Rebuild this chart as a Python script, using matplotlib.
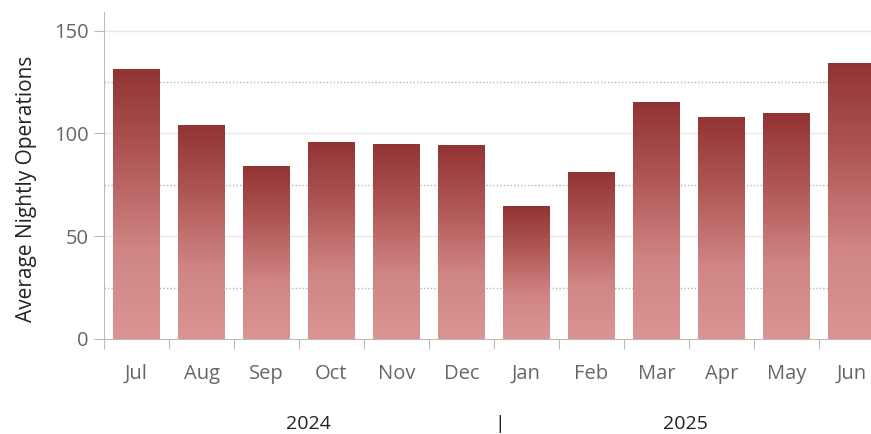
import matplotlib
matplotlib.use("Agg")
import matplotlib.pyplot as plt
import numpy as np
from matplotlib.colors import LinearSegmentedColormap

months = ["Jul", "Aug", "Sep", "Oct", "Nov", "Dec", "Jan", "Feb", "Mar", "Apr", "May", "Jun"]
values = [131.5, 104.2, 84.3, 96.0, 95.0, 94.5, 64.8, 81.3, 115.0, 108.1, 110.0, 134.2]
years = ["2024", "2025"]
year_pos = [2.64, 8.45]

plt.rcParams['font.family'] = ['Open Sans', 'DejaVu Sans']

fig = plt.figure(figsize=(8.71, 4.34), dpi=100)
ax = fig.add_axes([104 / 871, 95 / 434, 780 / 871, 327 / 434])

ymax = 159
ax.set_xlim(-0.5, len(months) - 0.5)
ax.set_ylim(0, ymax)

cmap = LinearSegmentedColormap.from_list("bar", ["#da9593", "#cf8583", "#b05857", "#923333"])
grad = np.linspace(0, 1, 256).reshape(-1, 1)

width = 0.71
bars = ax.bar(range(len(months)), values, width=width, color="none", zorder=3)
for b in bars:
    x0 = b.get_x()
    h = b.get_height()
    im = ax.imshow(grad, cmap=cmap, aspect="auto", origin="lower",
                   extent=[x0, x0 + width, 0, h], zorder=3)
    im.set_clip_path(b)

# grid
for y in [50, 100, 150]:
    ax.axhline(y, color="#e8e8e8", lw=1, zorder=1)
for y in [25, 75, 125]:
    ax.axhline(y, color="#b5b5b5", lw=1, ls=(0, (1, 1.5)), zorder=1)

ax.set_yticks([0, 50, 100, 150])
ax.tick_params(axis="y", length=7, color="#bbbbbb", labelcolor="#666666", labelsize=14.5, pad=4)

ax.set_xticks(np.arange(-0.5, len(months), 1))
ax.set_xticklabels([])
ax.set_xticks(range(len(months)), minor=True)
ax.set_xticklabels(months, minor=True)
ax.tick_params(axis="x", which="major", length=7, color="#bbbbbb")
ax.tick_params(axis="x", which="minor", length=0, labelcolor="#666666", labelsize=14.5, pad=18)

for s in ["top", "right"]:
    ax.spines[s].set_visible(False)
ax.spines["left"].set_color("#bbbbbb")
ax.spines["bottom"].set_color("#bbbbbb")

ax.set_ylabel("Average Nightly Operations", fontsize=15, color="#222222")
ax.yaxis.set_label_coords(-0.086, 0.459)

for yr, xp in zip(years, year_pos):
    ax.text(xp, -0.26, yr, transform=ax.get_xaxis_transform(), ha="center", va="center",
            fontsize=14, color="#222222")
ax.text(5.59, -0.26, "|", transform=ax.get_xaxis_transform(), ha="center", va="center",
        fontsize=14, color="#222222")

fig.savefig("out.png", dpi=100)
